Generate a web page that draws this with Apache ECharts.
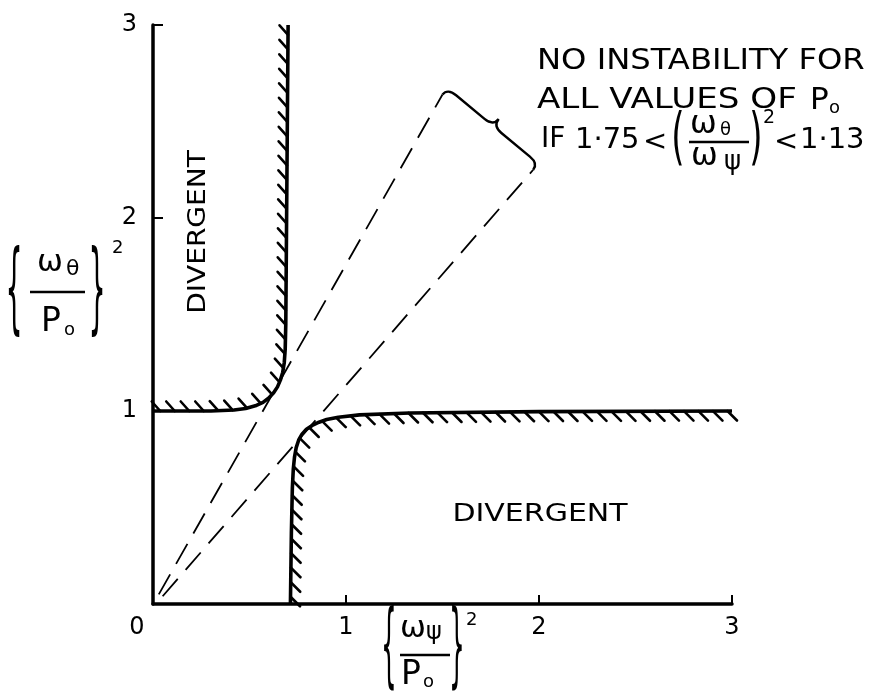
<!DOCTYPE html>
<html><head><meta charset="utf-8">
<script src="https://cdn.jsdelivr.net/npm/echarts@6/dist/echarts.min.js"></script>
<style>html,body{margin:0;padding:0;background:#fff}#c{width:874px;height:694px}</style>
</head><body><div id="c"></div>
<script>
// ---- data ----
const axisTicks = [0, 1, 2, 3];
const upperLeftX = [0, 0.30, 0.42, 0.48, 0.53, 0.57, 0.60, 0.625, 0.645, 0.66, 0.672, 0.68, 0.685, 0.688, 0.700];
const upperLeftY = [1.0, 1.0, 1.005, 1.013, 1.027, 1.045, 1.068, 1.095, 1.125, 1.16, 1.20, 1.25, 1.32, 1.45, 3.0];
const lowerRightX = [0.712, 0.717, 0.722, 0.727, 0.733, 0.742, 0.755, 0.772, 0.795, 0.825, 0.86, 0.90, 0.96, 1.07, 1.33, 2.0, 3.0];
const lowerRightY = [0, 0.37, 0.60, 0.70, 0.76, 0.81, 0.85, 0.88, 0.905, 0.925, 0.942, 0.956, 0.968, 0.980, 0.990, 0.997, 1.0];
const ratioHighX = [0.03, 1.50];
const ratioHighY = [0.05, 2.64];
const ratioLowX = [0.05, 1.97];
const ratioLowY = [0.04, 2.25];
const regionLabel = 'DIVERGENT';
const noteLine1 = 'NO INSTABILITY FOR';
const noteLine2 = 'ALL VALUES OF';
const noteLow = '1·75';
const noteHigh = '1·13';

// ---- styling ----
const FONT = 'DejaVu Sans';
const INK = '#000';
const HATCH_STEP = 14.5;

function pairs(xs, ys) { return xs.map((x, i) => [x, ys[i]]); }

function hatchSeries(xs, ys, dx, dy) {
  return {
    type: 'custom', coordinateSystem: 'cartesian2d', silent: true, clip: false, z: 4,
    data: [[xs[0], ys[0]]],
    renderItem: function (params, api) {
      const pts = xs.map((x, i) => api.coord([x, ys[i]]));
      const children = [];
      let acc = HATCH_STEP / 2;
      for (let i = 0; i < pts.length - 1; i++) {
        const x0 = pts[i][0], y0 = pts[i][1], x1 = pts[i + 1][0], y1 = pts[i + 1][1];
        const L = Math.hypot(x1 - x0, y1 - y0);
        let t = acc;
        while (t <= L) {
          const px = x0 + (x1 - x0) * t / L, py = y0 + (y1 - y0) * t / L;
          children.push({ type: 'line', shape: { x1: px, y1: py, x2: px + dx, y2: py + dy },
            style: { stroke: INK, lineWidth: 2.6, lineCap: 'round' } });
          t += HATCH_STEP;
        }
        acc = t - L;
      }
      return { type: 'group', children: children };
    }
  };
}

function braceSeries() {
  return {
    type: 'custom', coordinateSystem: 'cartesian2d', silent: true, clip: false, z: 4,
    data: [[ratioHighX[1], ratioHighY[1]]],
    renderItem: function (params, api) {
      const p1 = api.coord([ratioHighX[1], ratioHighY[1]]);
      const p2 = api.coord([ratioLowX[1], ratioLowY[1]]);
      const L = Math.hypot(p2[0] - p1[0], p2[1] - p1[1]);
      const d = [(p2[0] - p1[0]) / L, (p2[1] - p1[1]) / L];
      const n = [d[1], -d[0]];
      const a = 8, h = 17, q = 11;
      const P = (base, sd, sn) => (base[0] + d[0] * sd + n[0] * sn).toFixed(1) + ' ' + (base[1] + d[1] * sd + n[1] * sn).toFixed(1);
      const m = [(p1[0] + p2[0]) / 2, (p1[1] + p2[1]) / 2];
      const path = 'M ' + P(p1, 0, 0) +
        ' Q ' + P(p1, 0, a) + ' ' + P(p1, q, a) +
        ' L ' + P(m, -q, a) +
        ' Q ' + P(m, 0, a) + ' ' + P(m, 0, h) +
        ' Q ' + P(m, 0, a) + ' ' + P(m, q, a) +
        ' L ' + P(p2, -q, a) +
        ' Q ' + P(p2, 0, a) + ' ' + P(p2, 0, 0);
      return { type: 'path', shape: { pathData: path }, style: { stroke: INK, fill: 'none', lineWidth: 2.4 } };
    }
  };
}

function T(x, y, text, size, extra) {
  extra = extra || {};
  const align = extra.align || 'left';
  const el = { type: 'text', x: x, y: y, z: 10,
    style: { text: text, fontSize: size, fontFamily: FONT, fill: INK,
      align: align, textAlign: align, verticalAlign: 'middle', textVerticalAlign: 'middle' } };
  if (extra.scaleX) el.scaleX = extra.scaleX;
  if (extra.scaleY) el.scaleY = extra.scaleY;
  if (extra.rotation) el.rotation = extra.rotation;
  return el;
}
function bar(x1, x2, y, w) {
  return { type: 'line', z: 10, shape: { x1: x1, y1: y, x2: x2, y2: y }, style: { stroke: INK, lineWidth: w || 2.4 } };
}

const graphics = [
  // region labels
  T(198, 232, regionLabel, 25, { align: 'center', rotation: Math.PI / 2, scaleX: 1.12 }),
  T(540, 514, regionLabel, 25, { align: 'center', scaleX: 1.2 }),
  // note
  T(537, 62, noteLine1, 28, { scaleX: 1.15 }),
  T(537, 101, noteLine2, 28, { scaleX: 1.22 }),
  T(810, 101, 'P', 31),
  T(829, 108, 'o', 18),
  T(541, 140, 'IF', 28),
  T(575, 140, noteLow, 29),
  T(643, 142, '<', 29),
  T(678, 141, '(', 62, { align: 'center', scaleX: 0.55 }),
  T(690, 125, 'ω', 32), T(720, 130, 'θ', 18),
  bar(689, 749, 142, 2.4),
  T(691, 157, 'ω', 32), T(724, 162, 'ψ', 26),
  T(756, 141, ')', 62, { align: 'center', scaleX: 0.55 }),
  T(763, 118, '2', 19),
  T(774, 142, '<', 29),
  T(800, 140, noteHigh, 29),
  // y-axis title
  T(14, 295, '{', 100, { align: 'center', scaleX: 0.27 }),
  T(37, 263, 'ω', 31), T(66, 269, 'θ', 22),
  bar(30, 85, 292, 2.6),
  T(41, 322, 'P', 33), T(64, 330, 'o', 18),
  T(97, 295, '}', 100, { align: 'center', scaleX: 0.27 }),
  T(112, 248, '2', 18),
  // x-axis title
  T(389, 652, '{', 92, { align: 'center', scaleX: 0.27 }),
  T(400, 629, 'ω', 31), T(426, 633, 'ψ', 24),
  bar(400, 450, 655, 2.6),
  T(401, 675, 'P', 33), T(423, 682, 'o', 18),
  T(457, 652, '}', 92, { align: 'center', scaleX: 0.27 }),
  T(466, 620, '2', 18)
];

const chart = echarts.init(document.getElementById('c'), null, { renderer: 'canvas' });
chart.setOption({
  animation: false,
  backgroundColor: '#fff',
  grid: { left: 153, right: 142, top: 25, bottom: 90, containLabel: false },
  xAxis: {
    type: 'value', min: axisTicks[0], max: axisTicks[axisTicks.length - 1], interval: 1,
    axisLine: { show: true, onZero: false, lineStyle: { color: INK, width: 3.5 } },
    axisTick: { show: true, inside: true, length: 9, lineStyle: { color: INK, width: 2 } },
    splitLine: { show: false },
    axisLabel: {
      color: INK, fontSize: 24, fontFamily: FONT, margin: 12,
      formatter: v => v === 0 ? '{z|0}' : String(v),
      rich: { z: { color: INK, fontSize: 24, fontFamily: FONT, padding: [0, 32, 6, 0] } }
    }
  },
  yAxis: {
    type: 'value', min: axisTicks[0], max: axisTicks[axisTicks.length - 1], interval: 1,
    axisLine: { show: true, onZero: false, lineStyle: { color: INK, width: 3.5 } },
    axisTick: { show: true, inside: true, length: 10, lineStyle: { color: INK, width: 2 } },
    splitLine: { show: false },
    axisLabel: { color: INK, fontSize: 24, fontFamily: FONT, margin: 16,
      formatter: v => v === 0 ? '' : String(v) }
  },
  series: [
    { type: 'line', data: pairs(ratioHighX, ratioHighY), symbol: 'none', z: 2, silent: true,
      lineStyle: { color: INK, width: 1.8, type: [23, 12] } },
    { type: 'line', data: pairs(ratioLowX, ratioLowY), symbol: 'none', z: 2, silent: true,
      lineStyle: { color: INK, width: 1.8, type: [23, 12] } },
    { type: 'line', data: pairs(upperLeftX, upperLeftY), symbol: 'none', z: 3, silent: true,
      lineStyle: { color: INK, width: 3.6, join: 'round' } },
    { type: 'line', data: pairs(lowerRightX, lowerRightY), symbol: 'none', z: 3, silent: true,
      lineStyle: { color: INK, width: 3.6, join: 'round' } },
    hatchSeries(upperLeftX, upperLeftY, -8.5, -9.5),
    hatchSeries(lowerRightX, lowerRightY, 9.5, 9.5),
    braceSeries()
  ],
  graphic: graphics
});
</script></body></html>
